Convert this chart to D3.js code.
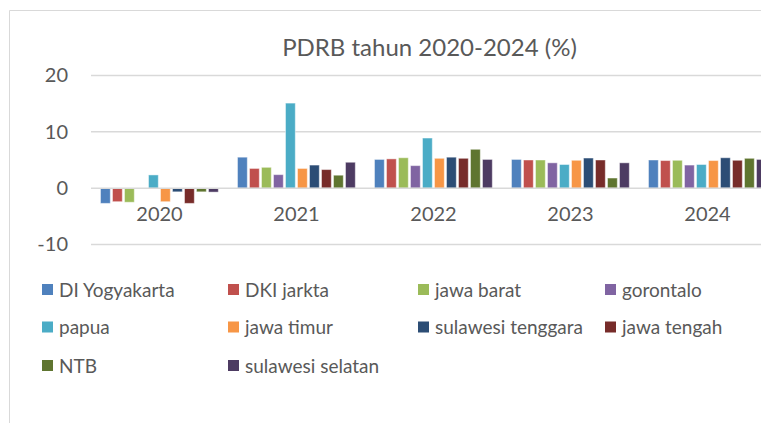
<!DOCTYPE html>
<html>
<head>
<meta charset="utf-8">
<script src="https://cdn.jsdelivr.net/npm/d3@7"></script>
<style>
  html, body { margin: 0; padding: 0; background: #fff; }
  svg { display: block; }
  text { font-family: Lato, "Open Sans", sans-serif; fill: #595959; }
</style>
</head>
<body>
<svg id="chart" width="761" height="423"></svg>
<script>
const years = ["2020", "2021", "2022", "2023", "2024"];
const seriesNames = ["DI Yogyakarta", "DKI jarkta", "jawa barat", "gorontalo", "papua",
  "jawa timur", "sulawesi tenggara", "jawa tengah", "NTB", "sulawesi selatan"];
const colors = ["#4F81BD", "#C0504D", "#9BBB59", "#8064A2", "#4BACC6",
  "#F79646", "#2C4D75", "#772C2A", "#5F7530", "#4D3B62"];

const diYogyakarta    = [-2.7, 5.5, 5.1, 5.1, 5.0];
const dkiJarkta       = [-2.4, 3.5, 5.2, 5.0, 4.9];
const jawaBarat       = [-2.5, 3.7, 5.4, 5.0, 4.95];
const gorontalo       = [-0.02, 2.4, 4.0, 4.5, 4.1];
const papua           = [2.35, 15.1, 8.9, 4.2, 4.2];
const jawaTimur       = [-2.4, 3.5, 5.3, 4.95, 4.9];
const sulawesiTenggara= [-0.65, 4.1, 5.5, 5.35, 5.4];
const jawaTengah      = [-2.7, 3.3, 5.3, 5.0, 4.95];
const ntb             = [-0.65, 2.3, 6.9, 1.8, 5.3];
const sulawesiSelatan = [-0.7, 4.6, 5.1, 4.5, 5.1];
const seriesValues = [diYogyakarta, dkiJarkta, jawaBarat, gorontalo, papua,
  jawaTimur, sulawesiTenggara, jawaTengah, ntb, sulawesiSelatan];
const yTicks = [-10, 0, 10, 20];
const title = "PDRB tahun 2020-2024 (%)";

const svg = d3.select("#chart");

// chart frame (cropped on right/bottom)
svg.append("path")
  .attr("d", "M9.5,430 L9.5,10.5 L770,10.5")
  .attr("fill", "none").attr("stroke", "#d9d9d9").attr("stroke-width", 1);

const plotLeft = 91, plotRight = 776;
const x0 = d3.scaleBand().domain(years).range([plotLeft, plotRight]).padding(0);
const bw = x0.bandwidth();
const x1 = d3.scaleBand().domain(seriesNames).range([bw * 0.062, bw * 0.938]).padding(0);
const y = d3.scaleLinear().domain([-10, 20]).range([244.5, 75.5]);

// gridlines
svg.append("g").selectAll("line").data(yTicks.filter(t => t !== 0)).join("line")
  .attr("x1", plotLeft).attr("x2", plotRight)
  .attr("y1", d => y(d)).attr("y2", d => y(d))
  .attr("stroke", "#d9d9d9").attr("stroke-width", 1.5);

// y axis labels
const yAxis = d3.axisLeft(y).tickValues(yTicks).tickSize(0).tickPadding(0)
  .tickFormat(d => String(d));
const gy = svg.append("g").attr("transform", "translate(68,0)").call(yAxis);
gy.select(".domain").remove();
gy.selectAll("text").style("font-size", "20px").attr("fill", "#595959")
  .attr("font-family", "Lato, 'Open Sans', sans-serif");

// bars
const groups = svg.append("g").selectAll("g").data(years).join("g")
  .attr("transform", d => `translate(${x0(d)},0)`);
groups.selectAll("rect")
  .data((yr, yi) => seriesNames.map((s, si) => ({ s, si, v: seriesValues[si][yi] })))
  .join("rect")
  .attr("x", d => x1(d.s) + 1)
  .attr("width", x1.bandwidth() - 2.2)
  .attr("y", d => Math.min(y(d.v), y(0)))
  .attr("height", d => Math.abs(y(d.v) - y(0)))
  .attr("fill", d => colors[d.si])
  .attr("stroke", "rgba(255,255,255,0.45)")
  .attr("stroke-width", 1);

// zero axis line
svg.append("line")
  .attr("x1", plotLeft).attr("x2", plotRight)
  .attr("y1", y(0)).attr("y2", y(0))
  .attr("stroke", "#d9d9d9").attr("stroke-width", 1.5);

// x axis labels
const xAxis = d3.axisBottom(x0).tickSize(0).tickPadding(0);
const gx = svg.append("g").attr("transform", "translate(0,207)").call(xAxis);
gx.select(".domain").remove();
gx.selectAll("text").style("font-size", "20px").attr("fill", "#595959")
  .attr("font-family", "Lato, 'Open Sans', sans-serif");

// title
svg.append("text")
  .attr("x", 429.5).attr("y", 56)
  .attr("text-anchor", "middle")
  .style("font-size", "24px")
  .text(title);

// legend
const colX = [42, 228, 418, 605];
const rowY = [290, 327.5, 366];
const leg = svg.append("g").selectAll("g").data(seriesNames).join("g")
  .attr("transform", (d, i) => `translate(${colX[i % 4]},${rowY[Math.floor(i / 4)]})`);
leg.append("rect").attr("x", 0).attr("y", -6).attr("width", 11).attr("height", 11)
  .attr("fill", (d, i) => colors[i]);
leg.append("text").attr("x", 17).attr("y", 0).attr("dy", "0.36em")
  .style("font-size", "19px").text(d => d);
</script>
</body>
</html>
